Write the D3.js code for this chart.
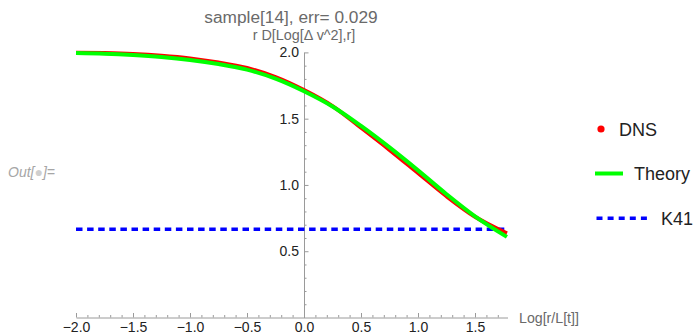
<!DOCTYPE html>
<html lang="en">
<head>
  <meta charset="utf-8">
  <title>sample[14]</title>
  <style>
    body { margin: 0; background: #fff; }
    svg { display: block; font-family: 'Liberation Sans', Arial, sans-serif; }
    .axis path, .axis line { stroke: #9a9a9a; }
    .axis text { fill: #222; font-size: 14px; font-family: 'Liberation Sans', Arial, sans-serif; }
  </style>
</head>
<body>
  <div id="chart"></div>
  <script src="https://cdn.jsdelivr.net/npm/d3@7"></script>
  <script>
    // data
    var xValues = [-2.0, -1.75, -1.5, -1.25, -1.0, -0.75, -0.5, -0.25, 0.0, 0.25, 0.5, 0.75, 1.0, 1.25, 1.5, 1.78];
    var dnsValues = [1.998, 1.995, 1.988, 1.975, 1.955, 1.924, 1.882, 1.814, 1.716, 1.595, 1.432, 1.265, 1.090, 0.915, 0.760, 0.635];
    var theoryValues = [1.995, 1.990, 1.980, 1.965, 1.943, 1.912, 1.870, 1.802, 1.707, 1.592, 1.445, 1.283, 1.110, 0.930, 0.763, 0.608];
    var k41Value = 2 / 3;
    var xTicks = [-2.0, -1.5, -1.0, -0.5, 0.0, 0.5, 1.0, 1.5];
    var yTicks = [0.5, 1.0, 1.5, 2.0];
    var legendLabels = ["DNS", "Theory", "K41"];

    var width = 694, height = 336;

    var svg = d3.select("#chart").append("svg")
      .attr("width", width)
      .attr("height", height);

    // scales
    var x = d3.scaleLinear().domain([-2.0, 1.785]).range([76, 507.5]);
    var y = d3.scaleLinear().domain([0, 2.0]).range([317.5, 52.4]);

    var minorX = d3.range(-20, 18).map(function (i) { return i / 10; })
      .filter(function (v) { return Math.abs(v * 2 - Math.round(v * 2)) > 1e-6; });
    var minorY = d3.range(1, 20).map(function (i) { return i / 10; })
      .filter(function (v) { return Math.abs(v * 2 - Math.round(v * 2)) > 1e-6; });

    // x axis (crosses at y = 0)
    svg.append("g")
      .attr("class", "axis")
      .attr("transform", "translate(0," + y(0) + ")")
      .call(d3.axisBottom(x).tickValues(minorX).tickSize(-2.5).tickFormat(""))
      .call(function (g) { g.select(".domain").remove(); });

    svg.append("g")
      .attr("class", "axis")
      .attr("transform", "translate(0," + y(0) + ")")
      .call(d3.axisBottom(x).tickValues(xTicks).tickSizeInner(-4.5).tickSizeOuter(0)
        .tickPadding(5).tickFormat(d3.format(".1f")));

    // y axis (crosses at x = 0)
    svg.append("g")
      .attr("class", "axis")
      .attr("transform", "translate(" + x(0) + ",0)")
      .call(d3.axisLeft(y).tickValues(minorY).tickSize(-2.5).tickFormat(""))
      .call(function (g) { g.select(".domain").remove(); });

    svg.append("g")
      .attr("class", "axis")
      .attr("transform", "translate(" + x(0) + ",0)")
      .call(d3.axisLeft(y).tickValues(yTicks).tickSizeInner(-4.5).tickSizeOuter(0)
        .tickPadding(5).tickFormat(d3.format(".1f")));

    // K41 line
    svg.append("line")
      .attr("x1", x(-2.0))
      .attr("x2", x(1.785))
      .attr("y1", y(k41Value))
      .attr("y2", y(k41Value))
      .attr("stroke", "#0000ff")
      .attr("stroke-width", 3.5)
      .attr("stroke-dasharray", "6.5,4.6");

    var dnsData = xValues.map(function (v, i) { return { x: v, y: dnsValues[i] }; });
    var theoryData = xValues.map(function (v, i) { return { x: v, y: theoryValues[i] }; });

    var line = d3.line()
      .x(function (d) { return x(d.x); })
      .y(function (d) { return y(d.y); })
      .curve(d3.curveMonotoneX);

    svg.append("path")
      .attr("fill", "none")
      .attr("stroke", "#ff0000")
      .attr("stroke-width", 4)
      .attr("d", line(dnsData));

    svg.append("path")
      .attr("fill", "none")
      .attr("stroke", "#00ff00")
      .attr("stroke-width", 4)
      .attr("d", line(theoryData));

    // title and axis labels
    svg.append("text")
      .attr("x", 291)
      .attr("y", 23)
      .attr("text-anchor", "middle")
      .attr("fill", "#6a6a6a")
      .style("font-size", "17.3px")
      .text("sample[14], err= 0.029");

    svg.append("text")
      .attr("x", 304)
      .attr("y", 40)
      .attr("text-anchor", "middle")
      .attr("fill", "#6a6a6a")
      .style("font-size", "14.4px")
      .text("r D[Log[\u0394 v^2],r]");

    svg.append("text")
      .attr("x", 519)
      .attr("y", 323)
      .attr("fill", "#6a6a6a")
      .style("font-size", "14.2px")
      .text("Log[r/L[t]]");

    // Out[] label
    var out = svg.append("text")
      .attr("x", 8)
      .attr("y", 177)
      .attr("fill", "#a6a6a6")
      .style("font-size", "14px")
      .style("font-style", "italic");
    out.append("tspan").text("Out[");
    out.append("tspan").attr("fill", "#cfcfcf").text("\u25CF");
    out.append("tspan").text("]=");

    // legend
    var legend = svg.append("g").style("font-size", "18px").attr("fill", "#222");

    legend.append("circle")
      .attr("cx", 601).attr("cy", 129).attr("r", 3.6)
      .attr("fill", "#ff0000");
    legend.append("text").attr("x", 619).attr("y", 135.5).text(legendLabels[0]);

    legend.append("line")
      .attr("x1", 595).attr("x2", 623).attr("y1", 173.5).attr("y2", 173.5)
      .attr("stroke", "#00ff00").attr("stroke-width", 4);
    legend.append("text").attr("x", 634).attr("y", 180).text(legendLabels[1]);

    legend.append("line")
      .attr("x1", 596.5).attr("x2", 649).attr("y1", 218.3).attr("y2", 218.3)
      .attr("stroke", "#0000ff").attr("stroke-width", 3.5)
      .attr("stroke-dasharray", "6,5.1");
    legend.append("text").attr("x", 661).attr("y", 224.5).text(legendLabels[2]);
  </script>
</body>
</html>
